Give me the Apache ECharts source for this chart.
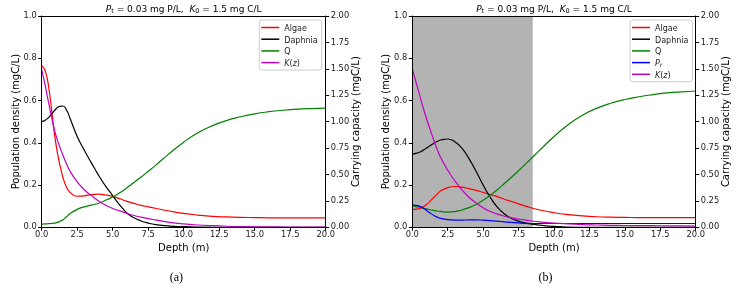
<!DOCTYPE html>
<html>
<head>
<meta charset="utf-8">
<script src="https://cdn.jsdelivr.net/npm/echarts@6/dist/echarts.min.js"></script>
<style>html,body{margin:0;padding:0;background:#fff}#c{width:743px;height:289px}</style>
</head>
<body>
<div id="c"></div>
<script>
// depth grid (m)
const depth = [0,0.25,0.5,0.75,1,1.25,1.5,1.75,2,2.5,3,3.5,4,4.5,5,5.5,6,6.5,7,7.5,8,9,10,11,12,13,14,15,16,17,18,19,20];

// panel (a)
const algaeA = [0.765,0.74,0.66,0.525,0.395,0.305,0.235,0.19,0.165,0.147,0.149,0.155,0.157,0.153,0.146,0.135,0.123,0.113,0.104,0.097,0.09,0.077,0.066,0.058,0.052,0.049,0.047,0.046,0.045,0.045,0.045,0.045,0.045];
const daphniaA = [0.50,0.507,0.52,0.54,0.56,0.572,0.574,0.555,0.515,0.43,0.365,0.305,0.247,0.195,0.15,0.105,0.068,0.045,0.03,0.02,0.013,0.006,0.003,0.001,0,0,0,0,0,0,0,0,0];
const qA = [0.015,0.016,0.017,0.019,0.021,0.027,0.036,0.05,0.065,0.085,0.097,0.105,0.114,0.128,0.143,0.163,0.187,0.212,0.238,0.265,0.292,0.35,0.403,0.447,0.48,0.505,0.523,0.537,0.547,0.554,0.559,0.562,0.564];
const kA = [1.49,1.34,1.17,1.01,0.87,0.77,0.68,0.60,0.53,0.43,0.355,0.30,0.25,0.21,0.178,0.155,0.132,0.112,0.096,0.082,0.07,0.047,0.032,0.022,0.015,0.01,0.007,0.005,0.004,0.003,0.003,0.002,0.002];

// panel (b)
const algaeB = [0.085,0.086,0.088,0.096,0.108,0.123,0.14,0.157,0.172,0.188,0.193,0.19,0.183,0.175,0.165,0.155,0.145,0.133,0.122,0.111,0.1,0.082,0.069,0.06,0.054,0.05,0.048,0.047,0.046,0.046,0.046,0.046,0.046];
const daphniaB = [0.347,0.35,0.355,0.364,0.375,0.386,0.397,0.406,0.413,0.418,0.405,0.375,0.325,0.265,0.2,0.142,0.095,0.063,0.042,0.029,0.02,0.01,0.004,0.001,0,0,0,0,0,0,0,0,0];
const qB = [0.102,0.098,0.095,0.091,0.087,0.083,0.08,0.077,0.075,0.072,0.074,0.082,0.093,0.108,0.128,0.152,0.178,0.207,0.237,0.268,0.3,0.365,0.43,0.485,0.53,0.563,0.587,0.605,0.618,0.628,0.636,0.641,0.645];
const prB = [0.105,0.104,0.1,0.092,0.08,0.068,0.057,0.048,0.042,0.036,0.034,0.034,0.035,0.035,0.034,0.032,0.029,0.026,0.023,0.021,0.019,0.018,0.018,0.018,0.018,0.018,0.018,0.018,0.018,0.018,0.018,0.018,0.018];
const kB = [1.50,1.38,1.26,1.14,1.03,0.93,0.83,0.74,0.66,0.54,0.44,0.355,0.285,0.23,0.185,0.15,0.125,0.105,0.09,0.078,0.068,0.052,0.04,0.032,0.026,0.022,0.019,0.017,0.016,0.015,0.014,0.013,0.012];

// shaded depth range in panel (b)
const shadeB = [0, 8.5];

const xTicks = {min:0, max:20, interval:2.5};
const yLeft = {min:0, max:1, interval:0.2};
const yRight = {min:0, max:2, interval:0.25};

const FONT = 'DejaVu Sans';
const zip = (xs, ys) => xs.map((x,i)=>[x, ys[i]]);

const grids = [
  {left:41.7, top:16, width:284, height:211.3},
  {left:412.3, top:16, width:283.4, height:211.3}
];

function xAxes(gi){
  return [
    {gridIndex:gi, type:'value', position:'bottom', min:xTicks.min, max:xTicks.max, interval:xTicks.interval, z:10,
     axisLine:{show:true, onZero:false, lineStyle:{color:'#000', width:1}},
     axisTick:{show:true, length:3.5, lineStyle:{color:'#000', width:1}},
     axisLabel:{fontFamily:FONT, fontSize:8.3, color:'#222', margin:4, formatter:v=>v.toFixed(1)},
     splitLine:{show:false}},
    {gridIndex:gi, type:'value', position:'top', min:xTicks.min, max:xTicks.max, z:10,
     axisLine:{show:true, onZero:false, lineStyle:{color:'#000', width:1}},
     axisTick:{show:false}, axisLabel:{show:false}, splitLine:{show:false}}
  ];
}
function yAxes(gi){
  return [
    {gridIndex:gi, type:'value', position:'left', min:yLeft.min, max:yLeft.max, interval:yLeft.interval, z:10,
     axisLine:{show:true, onZero:false, lineStyle:{color:'#000', width:1}},
     axisTick:{show:true, length:3.5, lineStyle:{color:'#000', width:1}},
     axisLabel:{fontFamily:FONT, fontSize:8.3, color:'#222', margin:5, formatter:v=>v.toFixed(1)},
     splitLine:{show:false}},
    {gridIndex:gi, type:'value', position:'right', min:yRight.min, max:yRight.max, interval:yRight.interval, z:10,
     axisLine:{show:true, onZero:false, lineStyle:{color:'#000', width:1}},
     axisTick:{show:true, length:3.5, lineStyle:{color:'#000', width:1}},
     axisLabel:{fontFamily:FONT, fontSize:8.3, color:'#222', margin:5, formatter:v=>v.toFixed(2)},
     splitLine:{show:false}}
  ];
}

function line(name, color, data, xi, yi){
  return {name, type:'line', xAxisIndex:xi, yAxisIndex:yi, data, symbol:'none', showSymbol:false,
    smooth:0.5, z:2, animation:false,
    lineStyle:{color, width:1.2}, itemStyle:{color}};
}

const C = {algae:'#ff0000', daphnia:'#000000', q:'#008000', pr:'#0000ff', k:'#bf00bf'};

const series = [
  line('Algae', C.algae, zip(depth, algaeA), 0, 0),
  line('Daphnia', C.daphnia, zip(depth, daphniaA), 0, 0),
  line('Q', C.q, zip(depth, qA), 0, 0),
  line('Kz', C.k, zip(depth, kA), 0, 1),
  {type:'line', xAxisIndex:2, yAxisIndex:2, data:[], silent:true, z:1, animation:false,
   markArea:{silent:true, itemStyle:{color:'#b3b3b3', opacity:1}, data:[[{xAxis:shadeB[0]},{xAxis:shadeB[1]}]]}},
  line('Algae', C.algae, zip(depth, algaeB), 2, 2),
  line('Daphnia', C.daphnia, zip(depth, daphniaB), 2, 2),
  line('Q', C.q, zip(depth, qB), 2, 2),
  line('Pr', C.pr, zip(depth, prB), 2, 2),
  line('Kz', C.k, zip(depth, kB), 2, 3)
];

const labelMap = {Algae:'{n|Algae}', Daphnia:'{n|Daphnia}', Q:'{n|Q}', Pr:'{i|P}{s|r}', Kz:'{i|K}{n|(}{i|z}{n|)}'};
const legRich = {
  n:{fontFamily:FONT, fontSize:8, color:'#222', lineHeight:11, verticalAlign:'bottom'},
  i:{fontFamily:FONT, fontSize:8, fontStyle:'italic', color:'#222', lineHeight:11, verticalAlign:'bottom'},
  s:{fontFamily:FONT, fontSize:6, fontStyle:'italic', color:'#222', lineHeight:8, verticalAlign:'bottom'}
};
function legend(left, data){
  return {left, top:20, orient:'vertical', data, icon:'rect', itemWidth:18, itemHeight:1.5, itemGap:0.7,
    backgroundColor:'rgba(255,255,255,0.8)', borderColor:'#cccccc', borderWidth:1, borderRadius:3,
    padding:[2,4,2,2], selectedMode:false,
    formatter:n=>labelMap[n], textStyle:{rich:legRich, fontSize:8, lineHeight:11}};
}

const titleRich = {
  n:{fontFamily:FONT, fontSize:9, color:'#000', lineHeight:12, verticalAlign:'bottom'},
  i:{fontFamily:FONT, fontSize:9, fontStyle:'italic', color:'#000', lineHeight:12, verticalAlign:'bottom'},
  s:{fontFamily:FONT, fontSize:6.5, color:'#000', lineHeight:8, verticalAlign:'bottom'}
};
const titleText = '{i|P}{s|t}{n| = 0.03 mg P/L,  }{i|K}{s|0}{n| = 1.5 mg C/L}';

function txt(x, y, text, opts){
  return {type:'text', x, y, silent:true, style:Object.assign({text, fontFamily:FONT, fontSize:10, fill:'#000', align:'center', verticalAlign:'middle'}, opts||{})};
}
const graphics = [];
grids.forEach((g, gi)=>{
  const cx = g.left + g.width/2, cy = g.top + g.height/2;
  graphics.push({type:'text', x:cx, y:8.5, silent:true, style:{text:titleText, rich:titleRich, align:'center', verticalAlign:'middle'}});
  graphics.push(txt(cx, 248, 'Depth (m)'));
  graphics.push({type:'text', x:g.left-25.5, y:cy, rotation:Math.PI/2, silent:true, style:{text:'Population density (mgC/L)', fontFamily:FONT, fontSize:10, fill:'#000', align:'center', verticalAlign:'middle'}});
  graphics.push({type:'text', x:g.left+g.width+31, y:cy, rotation:Math.PI/2, silent:true, style:{text:'Carrying capacity (mgC/L)', fontFamily:FONT, fontSize:10, fill:'#000', align:'center', verticalAlign:'middle'}});
});
graphics.push(txt(176.3, 277.5, '(a)', {fontFamily:'Liberation Serif', fontSize:12}));
graphics.push(txt(545.5, 277.5, '(b)', {fontFamily:'Liberation Serif', fontSize:12}));

const chart = echarts.init(document.getElementById('c'), null, {renderer:'canvas'});
chart.setOption({
  animation:false,
  grid: grids,
  xAxis: [...xAxes(0), ...xAxes(1)],
  yAxis: [...yAxes(0), ...yAxes(1)],
  legend: [legend(259.3, ['Algae','Daphnia','Q','Kz']), legend(630, ['Algae','Daphnia','Q','Pr','Kz'])],
  series,
  graphic: graphics
});
</script>
</body>
</html>
